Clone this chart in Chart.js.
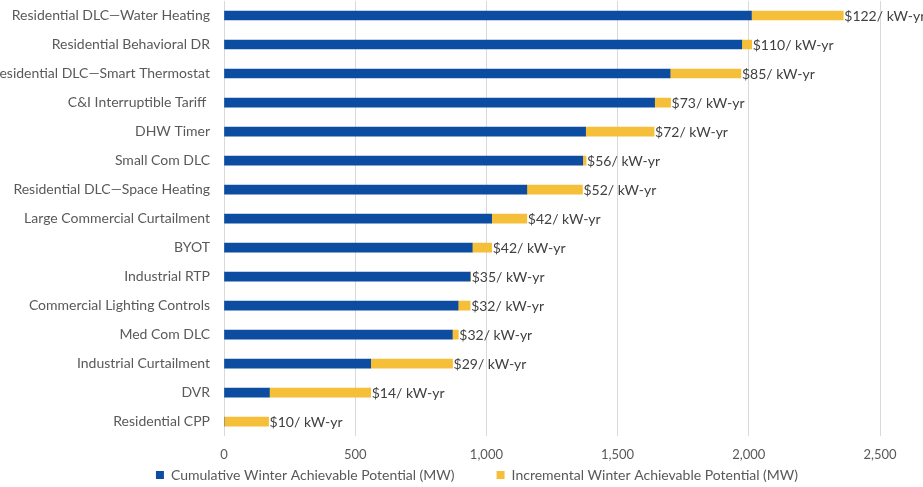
<!DOCTYPE html>
<html>
<head>
<meta charset="utf-8">
<script src="https://cdn.jsdelivr.net/npm/chart.js@4.4.1/dist/chart.umd.min.js"></script>
<style>
  html, body { margin: 0; padding: 0; background: #fff; }
  #wrap { width: 923px; height: 487px; }
</style>
</head>
<body>
<div id="wrap"><canvas id="dr_chart"></canvas></div>
<script>
// DR programs, top to bottom
var programs = [
  "Residential DLC\u2014Water Heating",
  "Residential Behavioral DR",
  "Residential DLC\u2014Smart Thermostat",
  "C&I Interruptible Tariff ",
  "DHW Timer",
  "Small Com DLC",
  "Residential DLC\u2014Space Heating",
  "Large Commercial Curtailment",
  "BYOT",
  "Industrial RTP",
  "Commercial Lighting Controls",
  "Med Com DLC",
  "Industrial Curtailment",
  "DVR",
  "Residential CPP"
];
// MW
var cumulativeMW = [2010, 1973, 1700, 1641, 1378, 1367, 1154, 1020, 946, 938, 892, 870, 559, 173, 0];
var incrementalMW = [350, 38, 270, 61, 261, 13, 212, 134, 74, 2, 46, 23, 312, 386, 170];
// levelized cost labels
var costLabels = ["$122/ kW-yr", "$110/ kW-yr", "$85/ kW-yr", "$73/ kW-yr", "$72/ kW-yr", "$56/ kW-yr",
  "$52/ kW-yr", "$42/ kW-yr", "$42/ kW-yr", "$35/ kW-yr", "$32/ kW-yr", "$32/ kW-yr", "$29/ kW-yr",
  "$14/ kW-yr", "$10/ kW-yr"];

var FONT = "Lato, 'Open Sans', sans-serif";
var GREY = "#595959";

// writes the cost label just past the end of each stacked bar
var costLabelPlugin = {
  id: "costLabels",
  afterLayout: function (chart) {
    // nudge the legend so it sits like the original
    chart.legend.left += 37;
    chart.legend.right += 37;
    chart.legend.top -= 6;
    chart.legend.bottom -= 6;
  },
  afterDatasetsDraw: function (chart) {
    var ctx = chart.ctx;
    var xs = chart.scales.x, ys = chart.scales.y;
    ctx.save();
    ctx.font = "14px " + FONT;
    ctx.fillStyle = "#404040";
    ctx.textAlign = "left";
    ctx.textBaseline = "middle";
    programs.forEach(function (p, i) {
      var total = cumulativeMW[i] + incrementalMW[i];
      ctx.fillText(costLabels[i], xs.getPixelForValue(total) + 1, ys.getPixelForValue(i) + 1);
    });
    ctx.restore();
  }
};

new Chart(document.getElementById("dr_chart"), {
  type: "bar",
  data: {
    labels: programs,
    datasets: [
      {
        label: "Cumulative Winter Achievable Potential (MW)",
        data: cumulativeMW,
        backgroundColor: "#0C4DA2",
        barThickness: 9
      },
      {
        label: "Incremental Winter Achievable Potential (MW)",
        data: incrementalMW,
        backgroundColor: "#F6BF3A",
        barThickness: 9
      }
    ]
  },
  options: {
    indexAxis: "y",
    responsive: true,
    maintainAspectRatio: false,
    animation: false,
    layout: { padding: { left: 0, right: 43, top: 1, bottom: -11 } },
    scales: {
      x: {
        stacked: true,
        min: 0,
        max: 2500,
        ticks: { stepSize: 500, color: GREY, font: { family: FONT, size: 13, lineHeight: 0.6 }, padding: 15 },
        grid: { color: "#d9d9d9", drawTicks: false },
        border: { display: false }
      },
      y: {
        stacked: true,
        ticks: { color: GREY, font: { family: FONT, size: 14 }, padding: 6 },
        grid: { display: false },
        border: { display: false },
        // fixed width so the chart area starts at x=224; long labels run off the left edge
        afterFit: function (scale) {
          scale.width = 224;
          scale.paddingTop = 0;
          scale.paddingBottom = 0;
        }
      }
    },
    plugins: {
      legend: {
        position: "bottom",
        labels: {
          color: GREY,
          font: { family: FONT, size: 14, lineHeight: 1 },
          boxWidth: 8,
          boxHeight: 8,
          padding: 0,
          generateLabels: function (chart) {
            var items = Chart.defaults.plugins.legend.labels.generateLabels(chart);
            // wider gap between the two entries
            items[0].text += "\u2003\u2003\u2003\u2003";
            return items;
          }
        }
      },
      tooltip: { enabled: false }
    }
  },
  plugins: [costLabelPlugin]
});
</script>
</body>
</html>
